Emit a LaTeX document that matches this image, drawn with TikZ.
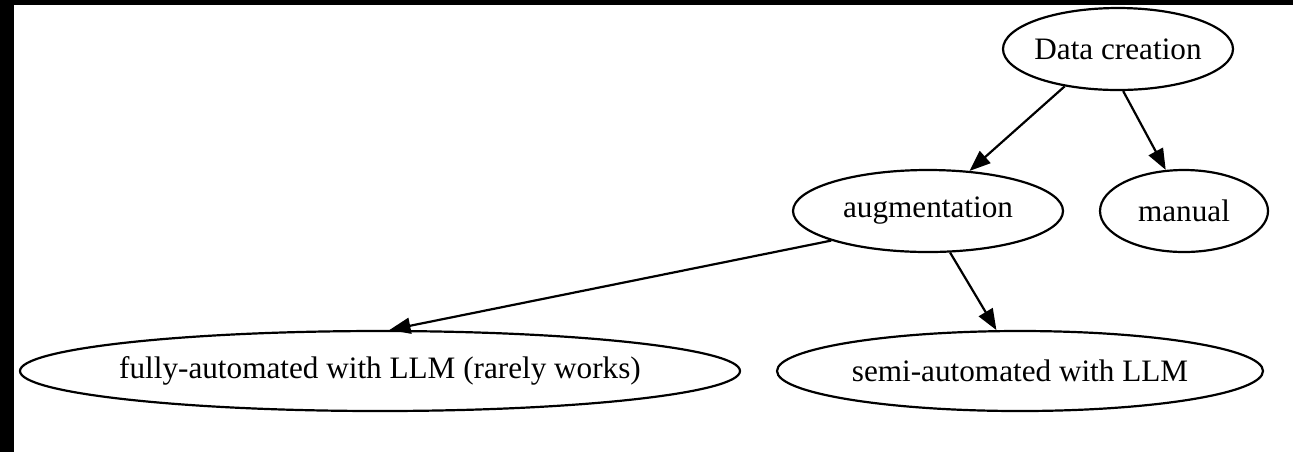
\documentclass[tikz,border=0pt]{standalone}
\usepackage{fontspec}
\setmainfont{Liberation Serif}
\usetikzlibrary{shapes.geometric,arrows.meta}
\newcommand{\nolab}[1]{\makebox[0pt]{#1}}
\tikzset{
  el/.style={ellipse, draw, line width=1.1pt, inner sep=0pt, minimum height=41pt, font=\fontsize{15.6}{18}\selectfont},
  edge/.style={line width=1.1pt, -{Triangle[length=10.5pt,width=8pt]}}
}
\begin{document}
\begin{tikzpicture}[x=0.5pt,y=-0.5pt]
\useasboundingbox (0,0) rectangle (1293,452);
\fill[black] (0,0) rectangle (1293,5);
\fill[black] (0,0) rectangle (14,452);
\node[el, minimum width=115pt] (dc) at (1118,49) {\nolab{Data creation}};
\node[el, minimum width=135pt] (aug) at (928,211) {\nolab{augmentation}};
\node[el, minimum width=84pt] (man) at (1184,211) {\nolab{manual}};
\node[el, minimum width=360pt, minimum height=40pt] (fa) at (380,371) {\nolab{fully-automated with LLM (rarely works)}};
\node[el, minimum width=243pt, minimum height=40pt] (sa) at (1020,371) {\nolab{semi-automated with LLM}};
\draw[edge] (dc.215) -- (aug.44);
\draw[edge] (dc.-83) -- (man.114);
\draw[edge] (aug.197) -- (fa.77);
\draw[edge] (aug.-62) -- (sa.120);
\end{tikzpicture}
\end{document}
